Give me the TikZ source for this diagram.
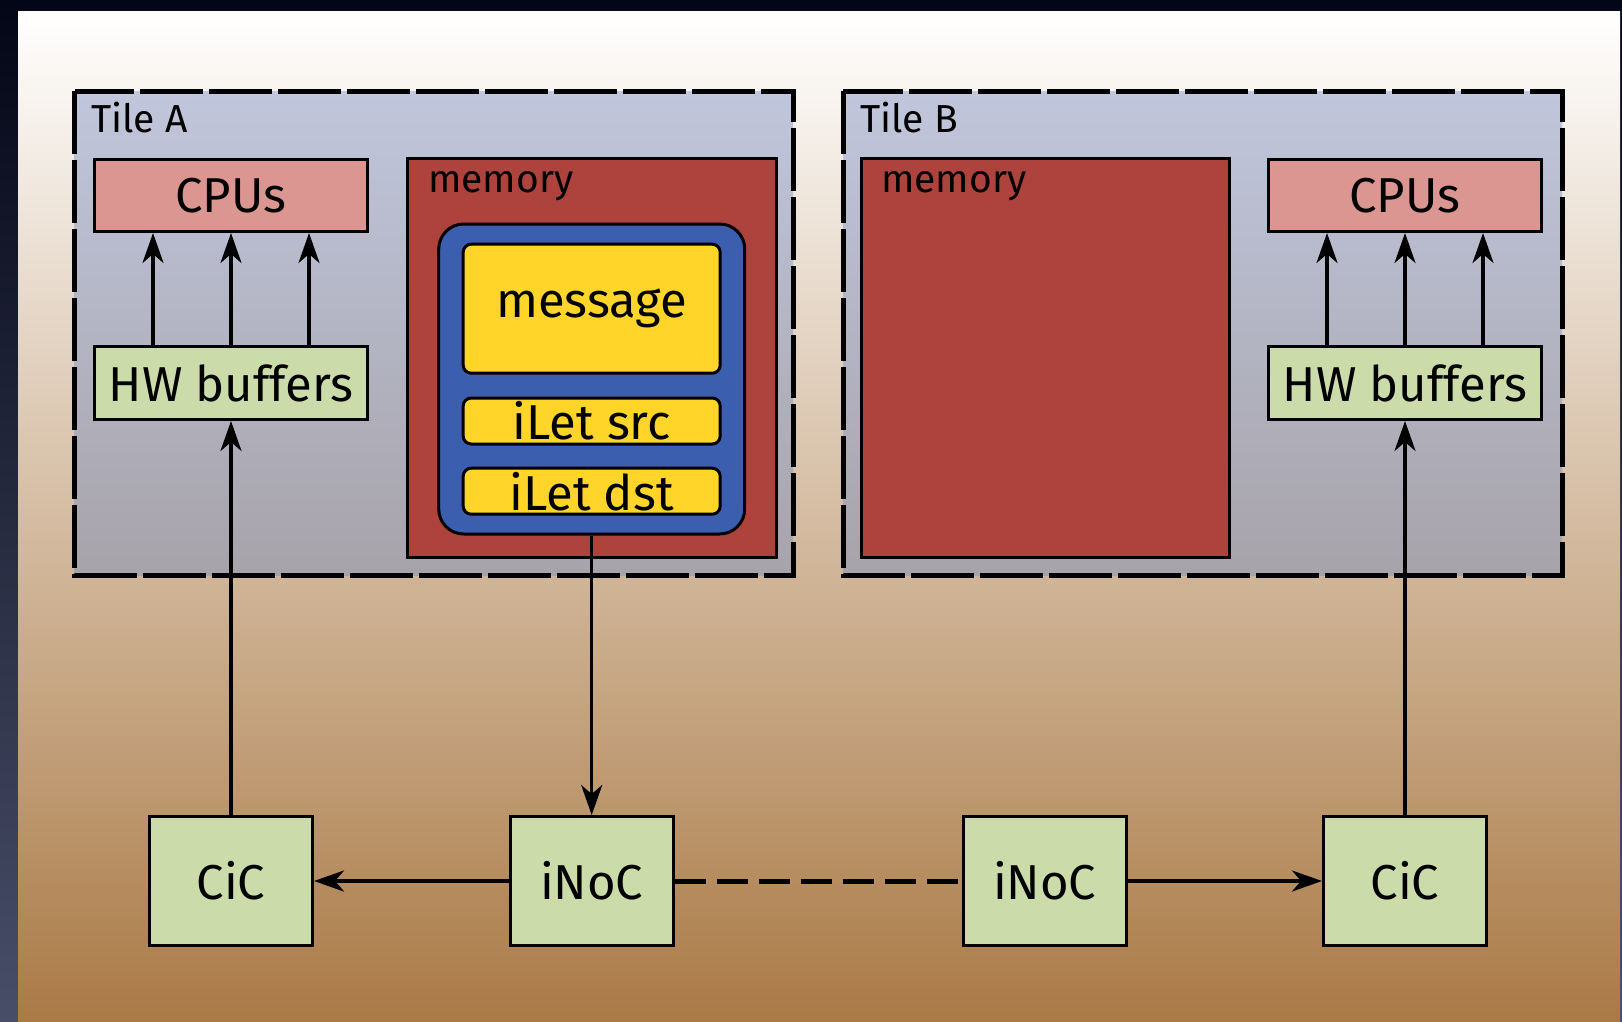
\documentclass[tikz,border=0pt]{standalone}
\usepackage{fontspec}
\setmainfont{Fira Sans}
\usetikzlibrary{arrows.meta}
\definecolor{framedark}{RGB}{3,6,22}
\definecolor{framelow}{RGB}{72,78,104}
\definecolor{slidelow}{RGB}{170,122,70}
\definecolor{tiletop}{RGB}{192,198,220}
\definecolor{tilelow}{RGB}{167,163,170}
\definecolor{cpured}{RGB}{219,150,146}
\definecolor{hwgreen}{RGB}{203,219,169}
\definecolor{memred}{RGB}{174,66,60}
\definecolor{msgblue}{RGB}{59,94,174}
\definecolor{msgyellow}{RGB}{255,213,42}
\tikzset{
  unit/.style={draw, line width=3pt, inner sep=0pt, font=\fontsize{49}{57}\selectfont},
  cpubox/.style={unit, fill=cpured, minimum width=273pt, minimum height=72pt},
  bufbox/.style={unit, fill=hwgreen, minimum width=273pt, minimum height=73pt},
  netbox/.style={unit, fill=hwgreen, minimum width=163pt, minimum height=129pt},
  msgpart/.style={unit, fill=msgyellow, rounded corners=8pt, minimum width=257pt},
  tileframe/.style={draw, line width=5pt, dash pattern=on 63pt off 6pt, top color=tiletop, bottom color=tilelow},
  smalltext/.style={anchor=base west, inner sep=0pt, font=\fontsize{39}{46}\selectfont},
  link/.style={line width=3.5pt}
}
\begin{document}
\begin{tikzpicture}[x=1pt, y=-1pt, >={Stealth[length=30pt,width=21pt,inset=9pt]}]
\useasboundingbox (0,0) rectangle (1622,1021);
\shade[top color=framedark, bottom color=framelow] (0,0) rectangle (1622,1021);
\shade[top color=white, bottom color=slidelow] (18,11) rectangle (1620,1021);

\shadedraw[tileframe] (74.5,91) rectangle (793,575);
\shadedraw[tileframe] (843,91) rectangle (1562,575);
\node[smalltext] (tileA) at (91,132) {Tile A};
\node[smalltext] (tileB) at (860,132) {Tile B};

\filldraw[fill=memred, line width=3pt] (407.6,158) rectangle (776,557.5);
\filldraw[fill=memred, line width=3pt] (861,158) rectangle (1229,557.5);
\node[smalltext] (memA) at (428,192) {memory};
\node[smalltext] (memB) at (881,192) {memory};

\node (cpuA) at (231,195.5) [cpubox]{CPUs};
\node (hwA) at (231,383) [bufbox]{HW buffers};
\node (cpuB) at (1405,195.5) [cpubox]{CPUs};
\node (hwB) at (1405,383) [bufbox]{HW buffers};

\node (msgbuf) at (591.7,379) [draw, line width=3pt, fill=msgblue, rounded corners=25pt, minimum width=306pt, minimum height=310pt]{};
\node (msg) at (591.7,308.7) [msgpart, minimum height=129pt]{message};
\node (src) at (591.7,421) [msgpart, minimum height=46pt]{iLet src};
\node (dst) at (591.7,491.2) [msgpart, minimum height=46pt]{iLet dst};

\node (cicA) at (231,881) [netbox]{CiC};
\node (inocA) at (591.7,881) [netbox]{iNoC};
\node (inocB) at (1044.7,881) [netbox]{iNoC};
\node (cicB) at (1405,881) [netbox]{CiC};

\foreach \dx in {-78,0,78} {
  \draw[link, ->] ([xshift=\dx pt]hwA.north)--([xshift=\dx pt]cpuA.south);
  \draw[link, ->] ([xshift=\dx pt]hwB.north)--([xshift=\dx pt]cpuB.south);
}
\draw[link, ->] (cicA)--(hwA);
\draw[link, ->] (cicB)--(hwB);
\draw[link, ->] (msgbuf)--(inocA);
\draw[link, ->] (inocA)--(cicA);
\draw[link, ->] (inocB)--(cicB);
\draw[line width=5pt, dash pattern=on 31pt off 11pt] (inocA)--(inocB);
\end{tikzpicture}
\end{document}
